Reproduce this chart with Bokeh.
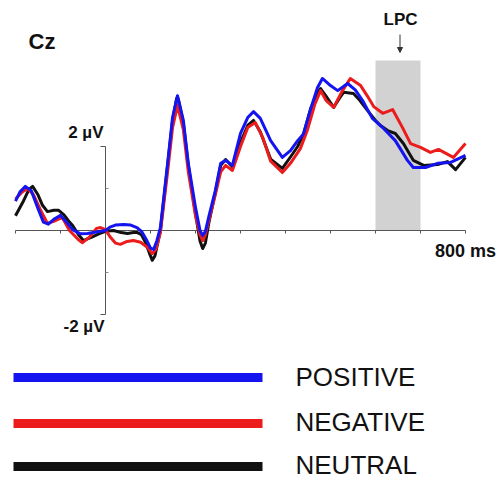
from bokeh.plotting import figure
from bokeh.models import Range1d, Arrow, NormalHead
from bokeh.core.properties import value
from bokeh.embed import file_html
from bokeh.resources import INLINE

# ---------------- data (ms, µV) ----------------
time_pos = [-200, -190, -178, -165, -151, -138, -127, -113, -100, -87, -73, -56, -40, -27, -10, 0,
            10, 22, 40, 56, 70, 80, 90, 100, 107, 114, 122, 138, 149, 160, 173, 184, 200, 210, 216,
            222, 230, 244, 256, 267, 282, 300, 316, 329, 344, 367, 393, 411, 427, 440, 456, 471,
            482, 500, 516, 538, 555, 571, 593, 618, 644, 671, 684, 711, 738, 767, 800]
uv_pos = [0.70, 0.92, 1.05, 0.95, 0.55, 0.20, 0.15, 0.28, 0.36, 0.20, 0.02, -0.08, -0.07, -0.05, -0.02, 0.0,
          0.08, 0.13, 0.14, 0.13, 0.07, -0.02, -0.20, -0.42, -0.45, -0.25, 0.07, 1.60, 2.69, 3.21, 2.62, 1.60, 0.55, 0.0, -0.12,
          -0.02, 0.35, 0.95, 1.60, 1.67, 1.55, 2.31, 2.69, 2.83, 2.67, 2.14, 1.74, 1.90, 2.14, 2.30, 2.90, 3.40,
          3.62, 3.45, 3.33, 3.50, 3.35, 3.10, 2.67, 2.43, 2.14, 1.67, 1.50, 1.50, 1.60, 1.62, 1.79]

time_neg = [-200, -185, -173, -160, -145, -129, -115, -96, -80, -60, -51, -35, -20, -11, 0,
            10, 22, 33, 48, 62, 78, 93, 104, 112, 122, 138, 149, 160, 173, 184, 200, 210, 216,
            222, 230, 244, 256, 267, 282, 300, 316, 333, 350, 367, 393, 411, 433, 449, 465,
            478, 490, 507, 525, 544, 567, 582, 596, 616, 638, 660, 678, 700, 722, 740, 773, 800]
uv_neg = [0.75, 0.92, 1.00, 0.85, 0.50, 0.17, 0.22, 0.31, 0.0, -0.22, -0.29, -0.15, 0.05, 0.07, 0.02,
          -0.15, -0.30, -0.33, -0.26, -0.24, -0.28, -0.40, -0.55, -0.45, -0.05, 1.40, 2.45, 2.98, 2.40, 1.40, 0.35, -0.10, -0.24,
          -0.10, 0.25, 0.85, 1.40, 1.55, 1.43, 2.00, 2.45, 2.57, 2.20, 1.65, 1.38, 1.60, 1.95, 2.40, 3.00,
          3.33, 3.10, 2.93, 3.30, 3.62, 3.45, 3.20, 2.95, 2.79, 2.88, 2.45, 2.07, 1.98, 1.86, 1.93, 1.74, 2.07]

time_neu = [-200, -182, -170, -162, -150, -140, -129, -115, -104, -93, -80, -73, -60, -49, -40, -29, -15, 0,
            18, 35, 49, 62, 71, 80, 89, 98, 104, 110, 122, 138, 149, 158, 162, 173, 184, 200, 210, 216,
            222, 230, 244, 256, 267, 282, 300, 316, 329, 344, 367, 393, 411, 427, 440, 456, 470, 478,
            490, 507, 520, 529, 551, 565, 582, 600, 611, 627, 644, 662, 684, 707, 738, 760, 778, 800]
uv_neu = [0.35, 0.71, 0.98, 1.05, 0.85, 0.60, 0.45, 0.48, 0.48, 0.38, 0.20, 0.12, -0.10, -0.24, -0.20, -0.15, -0.08, -0.02,
          0.0, -0.05, -0.07, -0.05, -0.05, -0.10, -0.29, -0.55, -0.71, -0.60, 0.0, 1.55, 2.62, 3.14, 3.12, 2.55, 1.55, 0.40, -0.25, -0.43,
          -0.30, 0.20, 0.90, 1.55, 1.69, 1.52, 2.10, 2.50, 2.62, 2.35, 1.70, 1.48, 1.75, 2.00, 2.30, 2.90, 3.25, 3.38,
          3.20, 2.93, 3.15, 3.29, 3.26, 3.10, 2.86, 2.62, 2.50, 2.38, 2.31, 2.07, 1.67, 1.55, 1.57, 1.64, 1.45, 1.74]

series_names = ["POSITIVE", "NEGATIVE", "NEUTRAL"]
series_colors = ["#1414f0", "#ec1c1c", "#111111"]

x_ticks = [-200, -100, 0, 100, 200, 300, 400, 500, 600, 700, 800]
y_label_values = [2, -2]
y_minor = [1, -1]
lpc_window = [600, 700]
lpc_top = 4.05

# ---------------- layout mapping ----------------
W, H = 502, 479
OFF = 0                   # page offset of the canvas
PX0, PPMS = 105, 0.45     # canvas x of 0 ms, px per ms
PY0, PPUV = 230, 42       # canvas y of 0 µV, px per µV


def fx(X):  # page pixel x -> data
    return (X - OFF - PX0) / PPMS


def fy(Y):  # page pixel y -> data
    return (PY0 - (Y - OFF)) / PPUV


p = figure(width=W, height=H, output_backend="svg", toolbar_location=None,
           x_range=Range1d(-PX0 / PPMS, (W - PX0) / PPMS),
           y_range=Range1d((PY0 - H) / PPUV, PY0 / PPUV),
           x_axis_location=None, y_axis_location=None, min_border=0)
p.outline_line_color = None
p.xgrid.visible = False
p.ygrid.visible = False

FONT = value("Liberation Sans")

# LPC window
p.quad(left=[lpc_window[0]], right=[lpc_window[1]], bottom=[0], top=[lpc_top],
       fill_color="#d2d2d2", line_color=None)

# x axis
p.line([x_ticks[0], x_ticks[-1]], [0, 0], line_color="#555555", line_width=1)
p.segment(x0=x_ticks, y0=[0] * len(x_ticks), x1=x_ticks, y1=[-3 / PPUV] * len(x_ticks),
          line_color="#555555", line_width=1)
# y axis
p.line([0, 0], [min(y_label_values), max(y_label_values)], line_color="#555555", line_width=1)
p.segment(x0=[-5 / PPMS] * 2, y0=y_label_values, x1=[0, 0], y1=y_label_values,
          line_color="#555555", line_width=1)
p.segment(x0=[0, 0], y0=y_minor, x1=[3 / PPMS] * 2, y1=y_minor,
          line_color="#888888", line_width=1)

# waveforms
p.line(time_neu, uv_neu, line_color=series_colors[2], line_width=3, line_join="round")
p.line(time_neg, uv_neg, line_color=series_colors[1], line_width=3, line_join="round")
p.line(time_pos, uv_pos, line_color=series_colors[0], line_width=3, line_join="round")

# labels
p.text(x=[fx(28)], y=[fy(41)], text=["Cz"], text_font=FONT, text_font_style="bold",
       text_font_size="22px", text_align="left", text_baseline="middle", text_color="#111111")
p.text(x=[fx(400)], y=[fy(19)], text=["LPC"], text_font=FONT, text_font_style="bold",
       text_font_size="17px", text_align="center", text_baseline="middle", text_color="#111111")
p.add_layout(Arrow(x_start=fx(399.5), y_start=fy(34), x_end=fx(399.5), y_end=fy(52),
                   line_color="#333333", line_width=1,
                   end=NormalHead(size=5, fill_color="#333333", line_color="#333333")))
p.text(x=[fx(103)], y=[fy(132)], text=["%d µV" % y_label_values[0]], text_font=FONT,
       text_font_style="bold", text_font_size="17px", text_align="right",
       text_baseline="middle", text_color="#111111")
p.text(x=[fx(104)], y=[fy(326)], text=["%d µV" % y_label_values[1]], text_font=FONT,
       text_font_style="bold", text_font_size="17px", text_align="right",
       text_baseline="middle", text_color="#111111")
p.text(x=[fx(465)], y=[fy(250)], text=["%d ms" % x_ticks[-1]], text_font=FONT,
       text_font_style="bold", text_font_size="18px", text_align="center",
       text_baseline="middle", text_color="#111111")

# legend
legend_y = [377, 423, 466]
legend_ty = [376, 421, 464]
for name, col, ly, ty in zip(series_names, series_colors, legend_y, legend_ty):
    p.line([fx(13), fx(262)], [fy(ly), fy(ly)], line_color=col, line_width=9)
    p.text(x=[fx(295)], y=[fy(ty)], text=[name], text_font=FONT, text_font_size="26px",
           text_align="left", text_baseline="middle", text_color="#111111")

open("out.html", "w").write(file_html(p, INLINE))
